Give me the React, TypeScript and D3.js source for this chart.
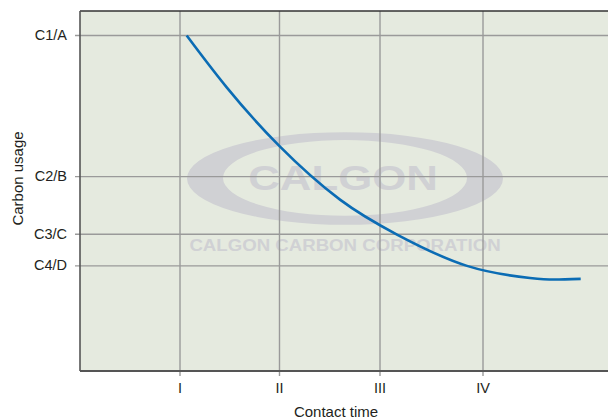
import React from "react";
import * as d3 from "d3";

const W = 608;
const H = 419;

// Curve: contact time (I..IV units) vs carbon usage (relative units)
const timeValues = [1.067, 1.467, 1.99, 2.6, 3.17, 3.87, 4.5, 4.75, 5.007];
const usageValues = [93.2, 78.8, 62.6, 47.6, 37.9, 29.2, 25.85, 25.4, 25.6];

const xTickValues = [1, 1.995, 3, 4.03];
const xTickLabels = ["I", "II", "III", "IV"];
const yTickValues = [93.2, 54.0, 38.0, 29.2];
const yTickLabels = ["C1/A", "C2/B", "C3/C", "C4/D"];

const FONT = "'Liberation Sans', Arial, Helvetica, sans-serif";

export default function App() {
  const margin = { left: 80, top: 11, bottom: 48 };
  const x = d3.scaleLinear().domain([0, 5.28]).range([margin.left, W]);
  const y = d3.scaleLinear().domain([0, 100]).range([H - margin.bottom, margin.top]);
  const y0 = y(0);
  const yTop = y(100);

  const pts: [number, number][] = timeValues.map((t, i) => [t, usageValues[i]]);
  const line = d3
    .line<[number, number]>()
    .x((d) => x(d[0]))
    .y((d) => y(d[1]))
    .curve(d3.curveNatural);

  // watermark geometry
  const wcx = 345;
  const wcy = 178.5;
  const ringPath =
    `M ${wcx - 158} ${wcy} a 158 46.3 0 1 0 316 0 a 158 46.3 0 1 0 -316 0 Z ` +
    `M ${wcx - 122} ${wcy - 0.6} a 122 37.9 0 1 0 244 0 a 122 37.9 0 1 0 -244 0 Z`;

  return (
    <svg
      width={W}
      height={H}
      style={{ position: "absolute", left: 0, top: 0, background: "#fff" }}
      fontFamily={FONT}
    >
      <rect x={margin.left} y={yTop} width={W - margin.left + 2} height={y0 - yTop} fill="#e5eadf" />

      {/* watermark */}
      <path d={ringPath} fill="#d0d1d4" fillRule="evenodd" />
      <text
        transform="translate(343, 190) scale(1.25, 1)"
        textAnchor="middle"
        fontSize={35}
        fontWeight="bold"
        fill="#d0d1d4"
      >
        CALGON
      </text>
      <text
        transform="translate(345, 251) scale(1.13, 1)"
        textAnchor="middle"
        fontSize={16.5}
        fontWeight="bold"
        fill="#d0d1d4"
      >
        CALGON CARBON CORPORATION
      </text>

      {/* grid */}
      {yTickValues.map((v, i) => (
        <line key={"h" + i} x1={75} x2={W} y1={y(v)} y2={y(v)} stroke="#9a9a9a" strokeWidth={1.4} />
      ))}
      {xTickValues.map((v, i) => (
        <line key={"v" + i} x1={x(v)} x2={x(v)} y1={yTop} y2={y0 + 5} stroke="#9a9a9a" strokeWidth={1.4} />
      ))}

      {/* curve */}
      <path d={line(pts) || ""} fill="none" stroke="#0b6cb4" strokeWidth={2.6} />

      {/* borders */}
      <line x1={margin.left} x2={W} y1={yTop} y2={yTop} stroke="#333" strokeWidth={1.5} />
      <line x1={margin.left} x2={margin.left} y1={yTop} y2={y0} stroke="#555" strokeWidth={1.6} />
      <line x1={margin.left} x2={W} y1={y0} y2={y0} stroke="#555" strokeWidth={2} />

      {/* tick labels */}
      {yTickValues.map((v, i) => (
        <text key={"yl" + i} x={67} y={y(v) + 4.5} textAnchor="end" fontSize={14.5} fill="#231f20">
          {yTickLabels[i]}
        </text>
      ))}
      {xTickValues.map((v, i) => (
        <text key={"xl" + i} x={x(v)} y={393} textAnchor="middle" fontSize={14.5} fill="#231f20">
          {xTickLabels[i]}
        </text>
      ))}

      {/* axis titles */}
      <text
        transform={`translate(23, 178.5) rotate(-90)`}
        textAnchor="middle"
        fontSize={15}
        fill="#231f20"
      >
        Carbon usage
      </text>
      <text x={336} y={417} textAnchor="middle" fontSize={15} fill="#231f20">
        Contact time
      </text>
    </svg>
  );
}
